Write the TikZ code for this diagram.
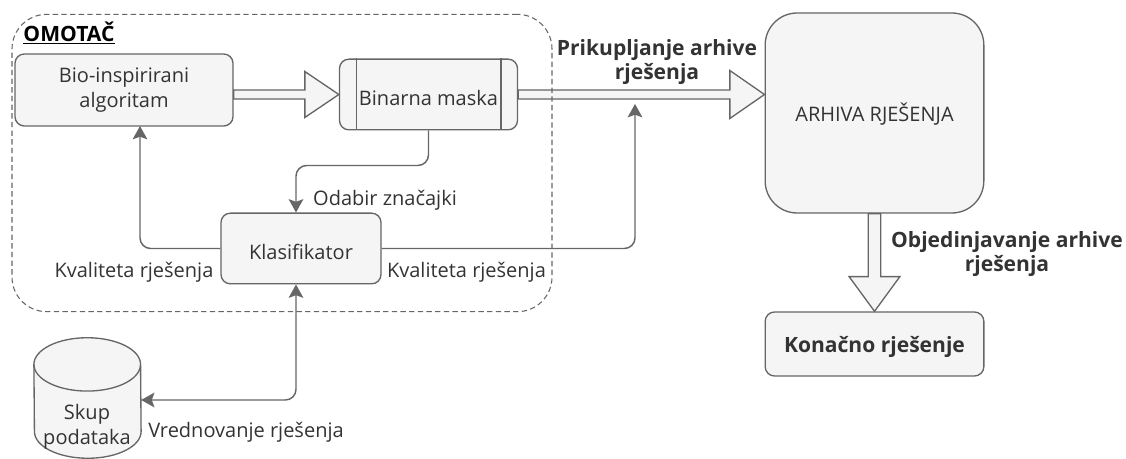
\documentclass[tikz,border=0pt]{standalone}
\usepackage{fontspec}
\setmainfont{Open Sans}
\usetikzlibrary{arrows.meta,calc}
\definecolor{boxline}{HTML}{666666}
\definecolor{boxfill}{HTML}{F5F5F5}
\definecolor{boxtext}{HTML}{333333}
\tikzset{
  box/.style={draw=boxline,fill=boxfill,text=boxtext,line width=1pt,rounded corners=7pt,align=center,inner sep=0pt,execute at begin node=\rule{0pt}{16pt}},
  lbl/.style={text=boxtext,align=center,inner sep=0pt,font=\fontsize{15}{18.5}\selectfont},
  boldlbl/.style={text=boxtext,align=center,inner sep=0pt,font=\fontsize{15.8}{18.5}\selectfont\bfseries},
  drum/.style={draw=boxline,fill=boxfill,line width=1pt},
  headtip/.tip={Stealth[length=10pt,width=11pt,inset=2pt,fill=boxline]},
  link/.style={draw=boxline,line width=1.1pt,rounded corners=8pt,-headtip},
  blockarrow/.style n args={3}{draw=boxline,fill=boxfill,line width=1pt,to path={
    ($(\tikztostart)!#1!90:(\tikztotarget)$)
    -- ($(\tikztotarget)!#2!(\tikztostart)!#1!-90:(\tikztostart)$)
    -- ($(\tikztotarget)!#2!(\tikztostart)!#3!-90:(\tikztostart)$)
    -- (\tikztotarget)
    -- ($(\tikztotarget)!#2!(\tikztostart)!#3!90:(\tikztostart)$)
    -- ($(\tikztotarget)!#2!(\tikztostart)!#1!90:(\tikztostart)$)
    -- ($(\tikztostart)!#1!-90:(\tikztotarget)$) -- cycle}}
}
\begin{document}
\begin{tikzpicture}[x=0.75pt,y=-0.75pt]
  \useasboundingbox (0,0) rectangle (1126,459);
  % Boxes
  \node[box,lbl,minimum width=163.5pt,minimum height=54pt,execute at begin node=\rule{0pt}{20pt}] (algo) at (124,90) {Bio-inspirirani\\algoritam};
  \node[box,lbl,minimum width=133.5pt,minimum height=53pt] (mask) at (428.5,94.5) {Binarna maska};
  \draw[draw=boxline,line width=1pt] ([xshift=13pt]mask.north west) -- ([xshift=13pt]mask.south west);
  \draw[draw=boxline,line width=1pt] ([xshift=-13pt]mask.north east) -- ([xshift=-13pt]mask.south east);
  \node[box,lbl,minimum width=120pt,minimum height=53pt] (classifier) at (301,248.5) {Klasifikator};
  \node[box,lbl,minimum width=164pt,minimum height=150pt,rounded corners=24pt] (archive) at (874.5,113) {ARHIVA RJEŠENJA};
  \node[box,boldlbl,minimum width=164pt,minimum height=48pt] (final) at (874.5,344) {Konačno rješenje};
  % Data store
  \node[inner sep=0pt,minimum width=80pt,minimum height=90pt] (dataset) at (87.5,398) {};
  \draw[drum] ([yshift=-20pt]dataset.north west) arc[start angle=180,end angle=0,x radius=40pt,y radius=20pt]
    -- ([yshift=20pt]dataset.south east) arc[start angle=0,end angle=-180,x radius=40pt,y radius=20pt] -- cycle;
  \draw[drum,fill=none] ([yshift=-20pt]dataset.north west) arc[start angle=180,end angle=360,x radius=40pt,y radius=20pt];
  \node[lbl] (datasetlbl) at (87,427) {Skup\\podataka};
  % Block arrows
  \draw[blockarrow={3.4pt}{25.5pt}{17.25pt}] (algo.east |- mask.west) to (mask.west);
  \draw[blockarrow={3.4pt}{26pt}{18pt}] (mask.east) to (archive.west |- mask.east);
  \draw[blockarrow={4.7pt}{26pt}{19pt}] (archive.south) to (final.north);
  % Connectors
  \draw[link] (mask.south) -- ++(0,35) -| (classifier.north -| 296,0);
  \draw[link] (classifier.west) -| (140,126);
  \draw[link] (classifier.east) -| (635,104);
  \draw[link,headtip-headtip] ([yshift=-1.5pt]dataset.east) -| (classifier.south -| 296,0);
  % Labels
  \node[boldlbl,text=black] (wrapperlbl) at (69,33) {\underline{OMOTAČ}};
  \node[lbl] (selectlbl) at (385,200) {Odabir značajki};
  \node[lbl] (qualityleft) at (134,272) {Kvaliteta rješenja};
  \node[lbl] (qualityright) at (466.5,272) {Kvaliteta rješenja};
  \node[lbl] (evallbl) at (246,432) {Vrednovanje rješenja};
  \node[boldlbl] (collectlbl) at (657,62) {Prikupljanje arhive\\rješenja};
  \node[boldlbl] (mergelbl) at (1007,254) {Objedinjavanje arhive\\rješenja};
  % Wrapper
  \node[draw=boxline,dashed,dash pattern=on 4pt off 2.5pt,line width=.8pt,rounded corners=26pt,minimum width=405pt,minimum height=223pt,inner sep=0pt] (wrapper) at (282,163) {};
\end{tikzpicture}
\end{document}
